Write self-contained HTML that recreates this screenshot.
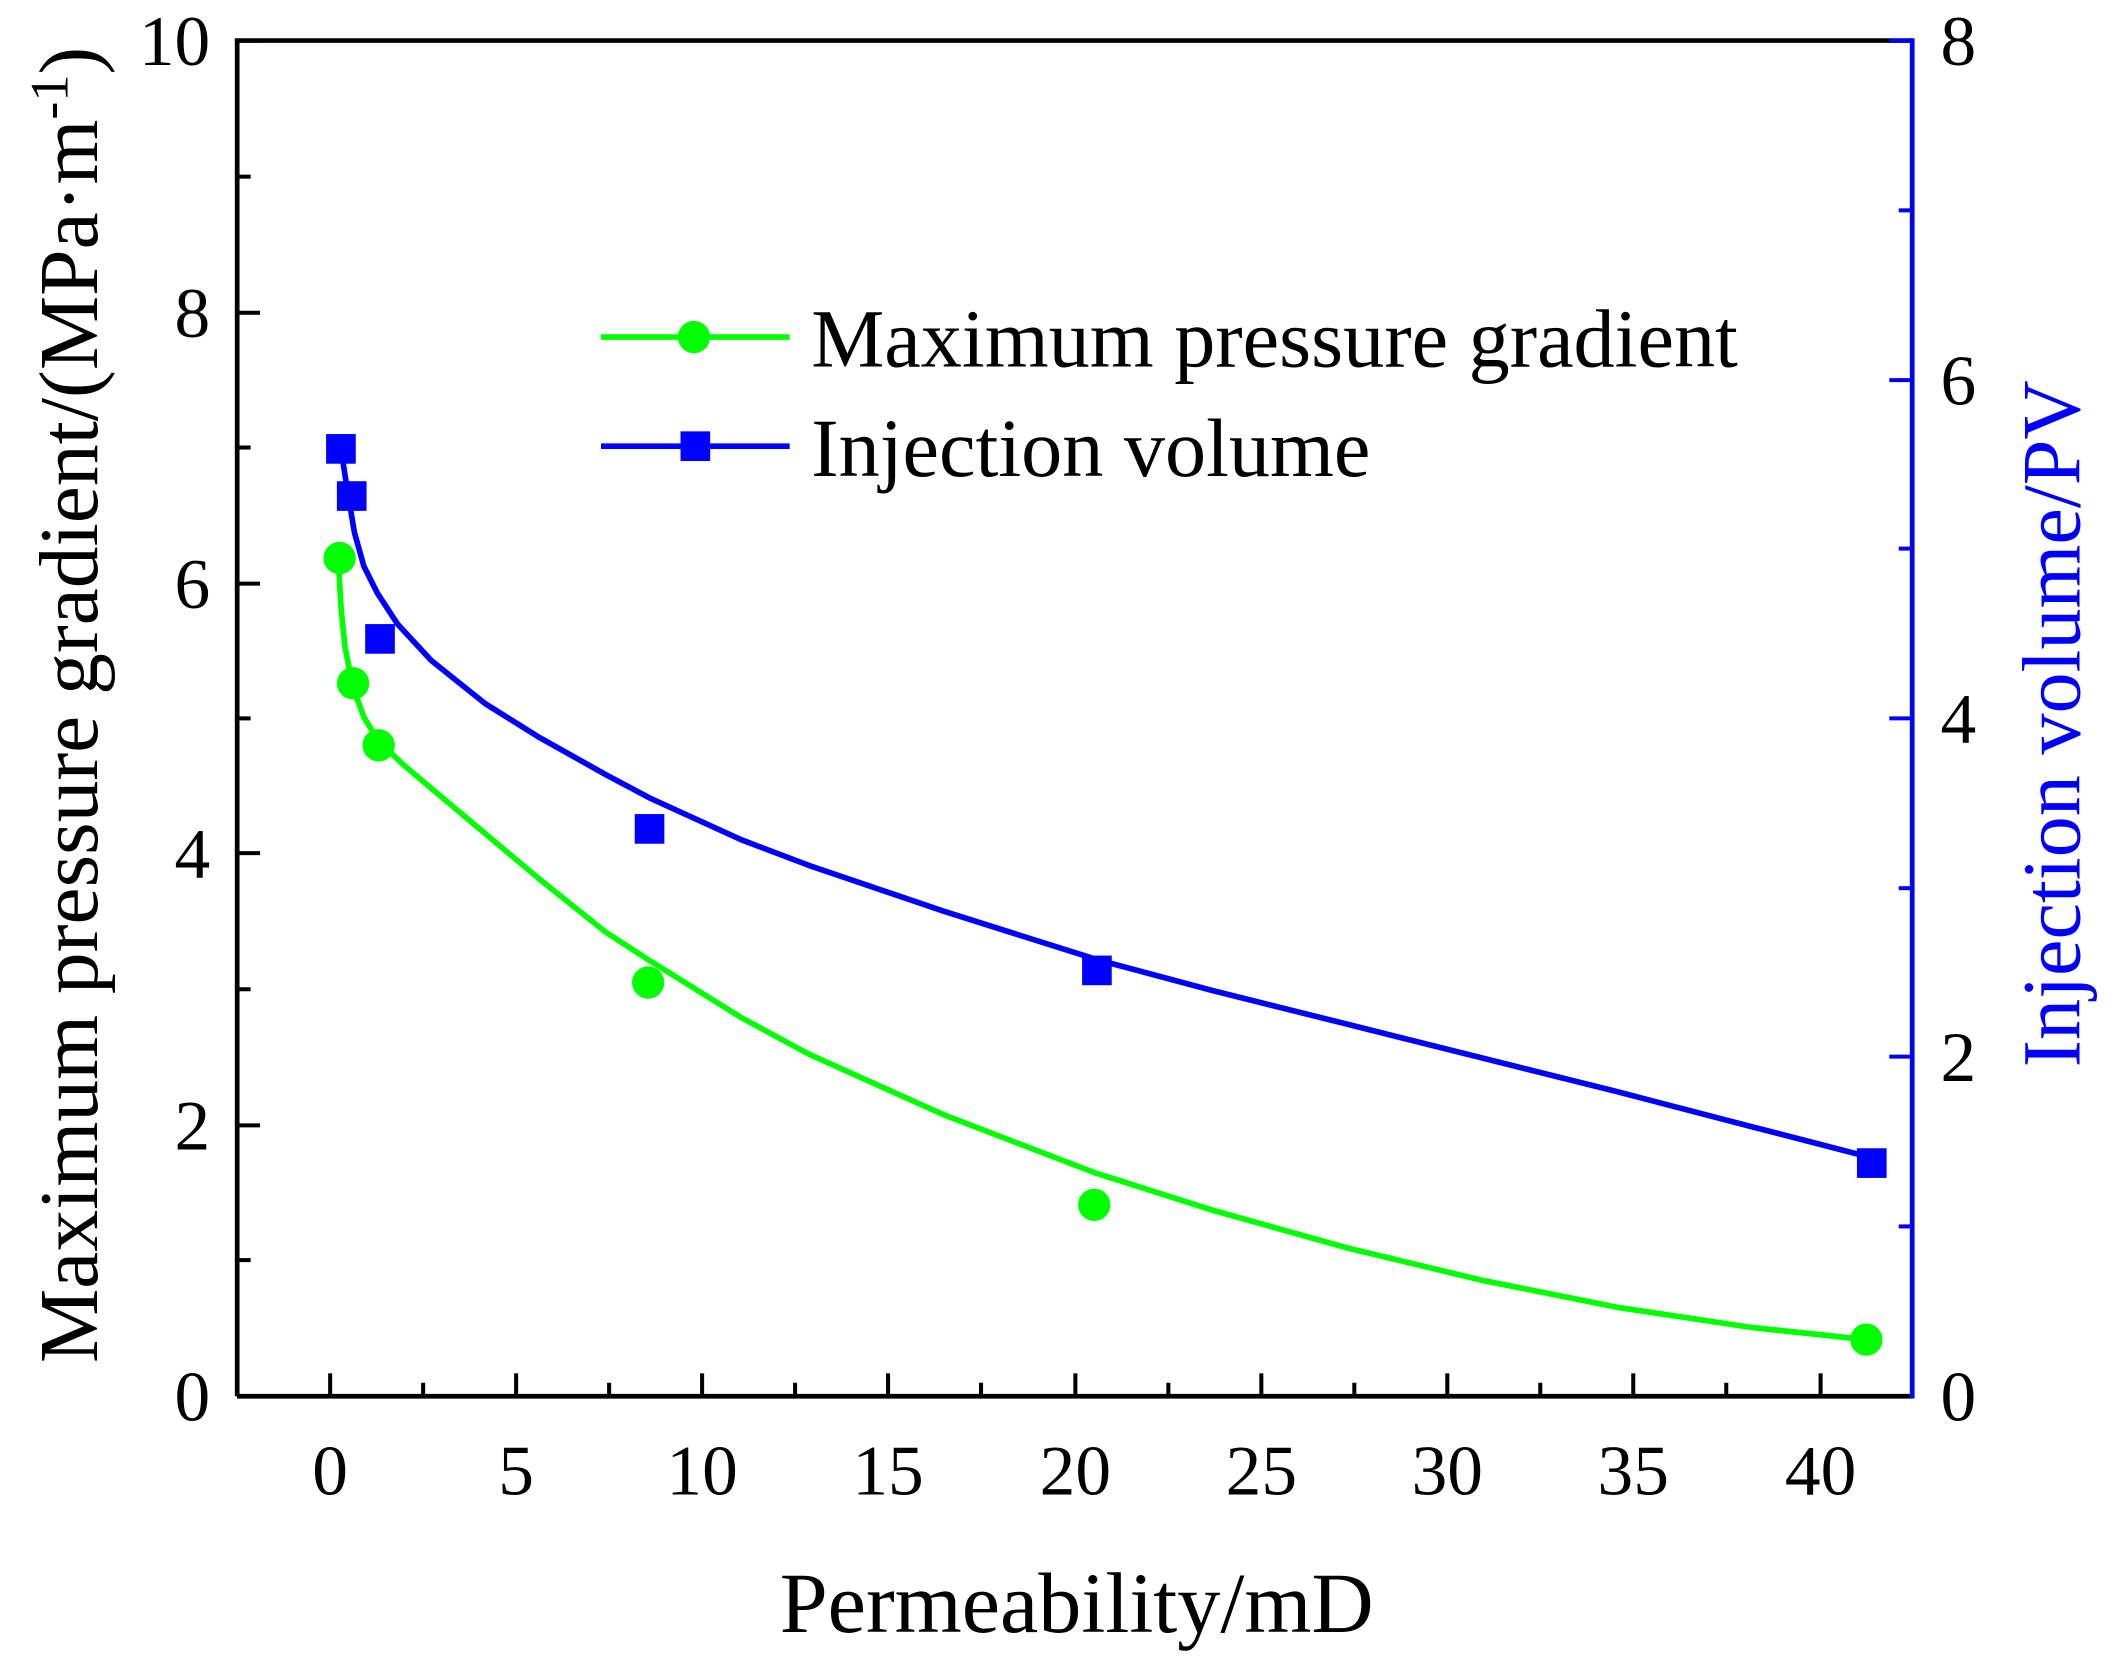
<!DOCTYPE html>
<html><head><meta charset="utf-8"><style>html,body{margin:0;padding:0;background:#fff}svg{display:block}</style></head>
<body>
<svg width="2113" height="1678" viewBox="0 0 1568 1245" xmlns="http://www.w3.org/2000/svg" font-family="Liberation Serif, serif">
<rect width="1568" height="1245" fill="#fff"/>
<path d="M176,1036 L176,30 L1419,30" fill="none" stroke="#000" stroke-width="3.5"/>
<line x1="176" y1="1036" x2="1419" y2="1036" stroke="#000" stroke-width="3.5"/>
<line x1="1419" y1="28.3" x2="1419" y2="1037.7" stroke="#00f" stroke-width="3.5"/>
<g stroke="#000" stroke-width="3">
<line x1="176" x2="193" y1="1036" y2="1036"/><line x1="176" x2="193" y1="835" y2="835"/><line x1="176" x2="193" y1="633" y2="633"/><line x1="176" x2="193" y1="433" y2="433"/><line x1="176" x2="193" y1="232" y2="232"/><line x1="176" x2="193" y1="30" y2="30"/>
<line x1="176" x2="186" y1="935" y2="935"/><line x1="176" x2="186" y1="734" y2="734"/><line x1="176" x2="186" y1="533" y2="533"/><line x1="176" x2="186" y1="332" y2="332"/><line x1="176" x2="186" y1="131" y2="131"/>
</g>
<g stroke="#000" stroke-width="3">
<line x1="245" x2="245" y1="1036" y2="1019"/><line x1="383" x2="383" y1="1036" y2="1019"/><line x1="521" x2="521" y1="1036" y2="1019"/><line x1="659" x2="659" y1="1036" y2="1019"/><line x1="798" x2="798" y1="1036" y2="1019"/><line x1="936" x2="936" y1="1036" y2="1019"/><line x1="1074" x2="1074" y1="1036" y2="1019"/><line x1="1212" x2="1212" y1="1036" y2="1019"/><line x1="1351" x2="1351" y1="1036" y2="1019"/>
<line x1="314" x2="314" y1="1036" y2="1026"/><line x1="452" x2="452" y1="1036" y2="1026"/><line x1="590" x2="590" y1="1036" y2="1026"/><line x1="728" x2="728" y1="1036" y2="1026"/><line x1="867" x2="867" y1="1036" y2="1026"/><line x1="1005" x2="1005" y1="1036" y2="1026"/><line x1="1143" x2="1143" y1="1036" y2="1026"/><line x1="1281" x2="1281" y1="1036" y2="1026"/>
</g>
<g stroke="#00f" stroke-width="3">
<line x1="1419" x2="1402" y1="784" y2="784"/><line x1="1419" x2="1402" y1="533" y2="533"/><line x1="1419" x2="1402" y1="282" y2="282"/><line x1="1419" x2="1402" y1="30" y2="30"/>
<line x1="1419" x2="1409" y1="910" y2="910"/><line x1="1419" x2="1409" y1="659" y2="659"/><line x1="1419" x2="1409" y1="407" y2="407"/><line x1="1419" x2="1409" y1="156" y2="156"/>
</g>
<g font-size="53" fill="#000" text-anchor="end">
<text x="156" y="1054">0</text><text x="156" y="853">2</text><text x="156" y="651">4</text><text x="156" y="451">6</text><text x="156" y="250">8</text><text x="156" y="48">10</text>
</g>
<g font-size="53" fill="#000" text-anchor="start">
<text x="1440" y="1054">0</text><text x="1440" y="802">2</text><text x="1440" y="551">4</text><text x="1440" y="300">6</text><text x="1440" y="48">8</text>
</g>
<g font-size="53" fill="#000" text-anchor="middle">
<text x="245" y="1109">0</text><text x="383" y="1109">5</text><text x="521" y="1109">10</text><text x="659" y="1109">15</text><text x="798" y="1109">20</text><text x="936" y="1109">25</text><text x="1074" y="1109">30</text><text x="1212" y="1109">35</text><text x="1351" y="1109">40</text>
</g>
<text x="799" y="1211" font-size="64" text-anchor="middle">Permeability/mD</text>
<text transform="translate(72,523) rotate(-90)" font-size="62" text-anchor="middle">Maximum pressure gradient/(MPa·m<tspan dy="-22" font-size="40">-1</tspan><tspan dy="22">)</tspan></text>
<text transform="translate(1543,537) rotate(-90)" font-size="61" text-anchor="middle" fill="#00f">Injection volume/PV</text>
<polyline fill="none" stroke="#00ff00" stroke-width="4.2" stroke-linejoin="round" points="251,414 253,450 256,480 262,510 270,532 281,550 300,568 350,610 400,652 450,692 481,712 550,755 600,782 700,827 812,870 900,898 1000,926 1100,950 1200,970 1300,985 1385,994"/>
<polyline fill="none" stroke="#0000ff" stroke-width="4.2" stroke-linejoin="round" points="253,333 258,365 263,395 270,420 280,440 295,463 320,490 360,522 400,547 450,575 482,592 550,623 600,642 700,676 814,712 900,735 1000,760 1100,785 1200,810 1300,836 1389,859"/>
<g fill="#00ff00">
<circle cx="252" cy="414" r="12"/><circle cx="262" cy="507" r="12"/><circle cx="281" cy="553" r="12"/><circle cx="481" cy="729" r="12"/><circle cx="812" cy="894" r="12"/><circle cx="1385" cy="994" r="12"/>
</g>
<g fill="#0000ff">
<rect x="242" y="322" width="22" height="22"/><rect x="250" y="357" width="22" height="22"/><rect x="271" y="463" width="22" height="22"/><rect x="471" y="604" width="22" height="22"/><rect x="803" y="709" width="22" height="22"/><rect x="1378" y="852" width="22" height="22"/>
</g>
<line x1="446" x2="586" y1="250" y2="250" stroke="#00ff00" stroke-width="4.2"/>
<circle cx="515" cy="250" r="12" fill="#00ff00"/>
<text x="602" y="272" font-size="61">Maximum pressure gradient</text>
<line x1="446" x2="586" y1="331" y2="331" stroke="#0000ff" stroke-width="4.2"/>
<rect x="505" y="320" width="22" height="22" fill="#0000ff"/>
<text x="602" y="353" font-size="61">Injection volume</text>
</svg>
</body></html>
